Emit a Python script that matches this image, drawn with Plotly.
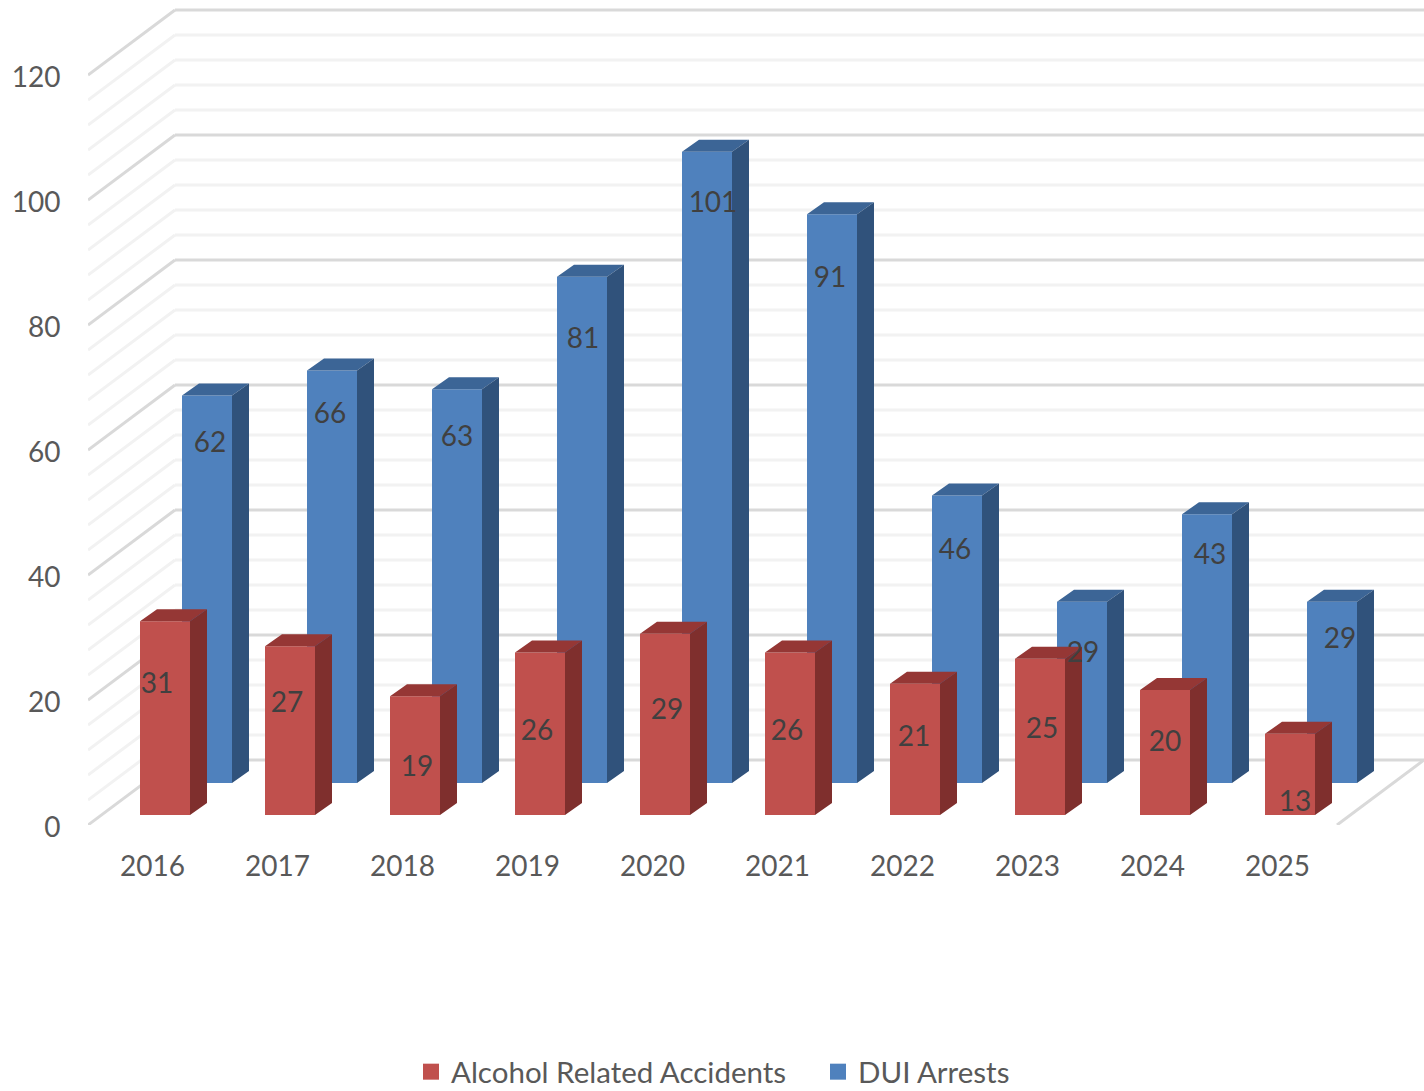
import plotly.graph_objects as go

years = [2016, 2017, 2018, 2019, 2020, 2021, 2022, 2023, 2024, 2025]
accidents = [31, 27, 19, 26, 29, 26, 21, 25, 20, 13]
arrests = [62, 66, 63, 81, 101, 91, 46, 29, 43, 29]
y_ticks = [0, 20, 40, 60, 80, 100, 120]

# label nudges (screen pixels) relative to the front-face centre of each bar
acc_dx = [-8, -3, 2, -3, 2, -3, -1, 2, 0, 5]
acc_dy = [-32, -26, 13, -1, -12, -1, -10, -6, -9, 30]
arr_dx = [3, -2, 0, 1, 6, -2, -2, 1, 3, 8]
arr_dy = [-144, -161, -147, -189, -262, -219, -87, -37, -92, -51]

W, H = 1424, 1091
PX_X = 125.0   # px per category
PX_Y = 6.25    # px per value unit
LEFT, BOTTOM = 88, 825
X_ORIGIN = 2016 - (152.5 - LEFT) / PX_X  # year at plot's left edge
X_END = X_ORIGIN + (W - LEFT) / PX_X
Y_END = BOTTOM / PX_Y

WALL_DX, WALL_DV = 87 / PX_X, 65 / PX_Y
BAR_DX, BAR_DV = 17 / PX_X, 12 / PX_Y
BAR_W = 50 / PX_X
ACC_OFF, ACC_BASE = (165 - 152.5) / PX_X, 10 / PX_Y
ARR_OFF, ARR_BASE = (207 - 152.5) / PX_X, 42 / PX_Y

GRID_MAJOR, GRID_MINOR = "#d9d9d9", "#f2f2f2"
RED, RED_TOP, RED_SIDE = "#c0504d", "#953735", "#7f2f2d"
BLUE, BLUE_TOP, BLUE_SIDE = "#4f81bd", "#3c6596", "#30527b"
TEXT, TICK_TEXT = "#404040", "#595959"
FONT = "Lato"


def faces(xs, vals, base):
    tx, ty, sx, sy = [], [], [], []
    for x, v in zip(xs, vals):
        x0, x1 = x - BAR_W / 2, x + BAR_W / 2
        top = base + v
        tx += [x0, x1, x1 + BAR_DX, x0 + BAR_DX, x0, None]
        ty += [top, top, top + BAR_DV, top + BAR_DV, top, None]
        sx += [x1, x1 + BAR_DX, x1 + BAR_DX, x1, x1, None]
        sy += [base, base + BAR_DV, top + BAR_DV, top, base, None]
    return tx, ty, sx, sy


def poly(x, y, color):
    return go.Scatter(x=x, y=y, mode="lines", fill="toself", fillcolor=color,
                      line=dict(width=0, color=color), hoverinfo="skip", showlegend=False)


def key(name, color):
    return go.Scatter(x=[None], y=[None], mode="markers", name=name,
                      marker=dict(symbol="square", size=18, color=color))


fig = go.Figure()

# walls and floor
shapes = []
def seg(x0, y0, x1, y1, color):
    shapes.append(dict(type="line", xref="x", yref="y", x0=x0, y0=y0, x1=x1, y1=y1,
                       layer="below", line=dict(color=color, width=3)))

for v in range(0, 121, 4):
    if v % 20 == 0:
        continue
    seg(X_ORIGIN, v, X_ORIGIN + WALL_DX, v + WALL_DV, GRID_MINOR)
    seg(X_ORIGIN + WALL_DX, v + WALL_DV, X_END, v + WALL_DV, GRID_MINOR)
for v in y_ticks:
    seg(X_ORIGIN, v, X_ORIGIN + WALL_DX, v + WALL_DV, GRID_MAJOR)
    seg(X_ORIGIN + WALL_DX, v + WALL_DV, X_END, v + WALL_DV, GRID_MAJOR)
seg(X_END - WALL_DX, 0, X_END, WALL_DV, GRID_MAJOR)

arr_x = [y + ARR_OFF for y in years]
acc_x = [y + ACC_OFF for y in years]

# fronts (bars sit beneath scatter layer, blue first)
fig.add_trace(go.Bar(x=arr_x, y=arrests, base=ARR_BASE, width=BAR_W, name="DUI Arrests",
                     marker=dict(color=BLUE, line_width=0), showlegend=False))
fig.add_trace(go.Bar(x=acc_x, y=accidents, base=ACC_BASE, width=BAR_W, name="Alcohol Related Accidents",
                     marker=dict(color=RED, line_width=0), showlegend=False))

tx, ty, sx, sy = faces(arr_x, arrests, ARR_BASE)
fig.add_trace(poly(tx, ty, BLUE_TOP))
fig.add_trace(poly(sx, sy, BLUE_SIDE))
tx, ty, sx, sy = faces(acc_x, accidents, ACC_BASE)
fig.add_trace(poly(tx, ty, RED_TOP))
fig.add_trace(poly(sx, sy, RED_SIDE))

# data labels
lx = [x + d / PX_X for x, d in zip(arr_x, arr_dx)] + [x + d / PX_X for x, d in zip(acc_x, acc_dx)]
ly = [ARR_BASE + v / 2 - d / PX_Y for v, d in zip(arrests, arr_dy)] + \
     [ACC_BASE + v / 2 - d / PX_Y for v, d in zip(accidents, acc_dy)]
lt = [str(v) for v in arrests + accidents]
fig.add_trace(go.Scatter(x=lx, y=ly, text=lt, mode="text", textposition="middle center",
                         textfont=dict(family=FONT, size=28, color=TEXT),
                         hoverinfo="skip", showlegend=False))

fig.add_trace(key("Alcohol Related Accidents", RED))
fig.add_trace(key("DUI Arrests", BLUE))

fig.update_layout(
    width=W, height=H, barmode="overlay", paper_bgcolor="white", plot_bgcolor="white",
    margin=dict(l=LEFT, r=0, t=0, b=H - BOTTOM, autoexpand=False),
    shapes=shapes,
    font=dict(family=FONT, size=28, color=TICK_TEXT),
    xaxis=dict(range=[X_ORIGIN, X_END], tickmode="array", tickvals=years, ticktext=[str(y) for y in years],
               showgrid=False, zeroline=False, showline=False, ticks="outside", ticklen=16,
               tickcolor="rgba(0,0,0,0)", tickfont=dict(family=FONT, size=28, color=TICK_TEXT)),
    yaxis=dict(range=[0, Y_END], tickmode="array", tickvals=y_ticks, ticktext=[str(y) for y in y_ticks],
               showgrid=False, zeroline=False, showline=False, ticks="outside", ticklen=21, ticklabelshift=2,
               tickcolor="rgba(0,0,0,0)", tickfont=dict(family=FONT, size=28, color=TICK_TEXT)),
    legend=dict(orientation="h", x=(431 - 20 - LEFT) / (W - LEFT), xanchor="left",
                y=(BOTTOM - 1072) / BOTTOM, yanchor="middle",
                font=dict(family=FONT, size=29.5, color=TICK_TEXT), traceorder="normal", itemwidth=30,
                entrywidth=362, entrywidthmode="pixels", bgcolor="rgba(0,0,0,0)"),
)

fig.write_html("out.html", config=dict(displayModeBar=False),
               post_script="document.body.style.margin='0';")
